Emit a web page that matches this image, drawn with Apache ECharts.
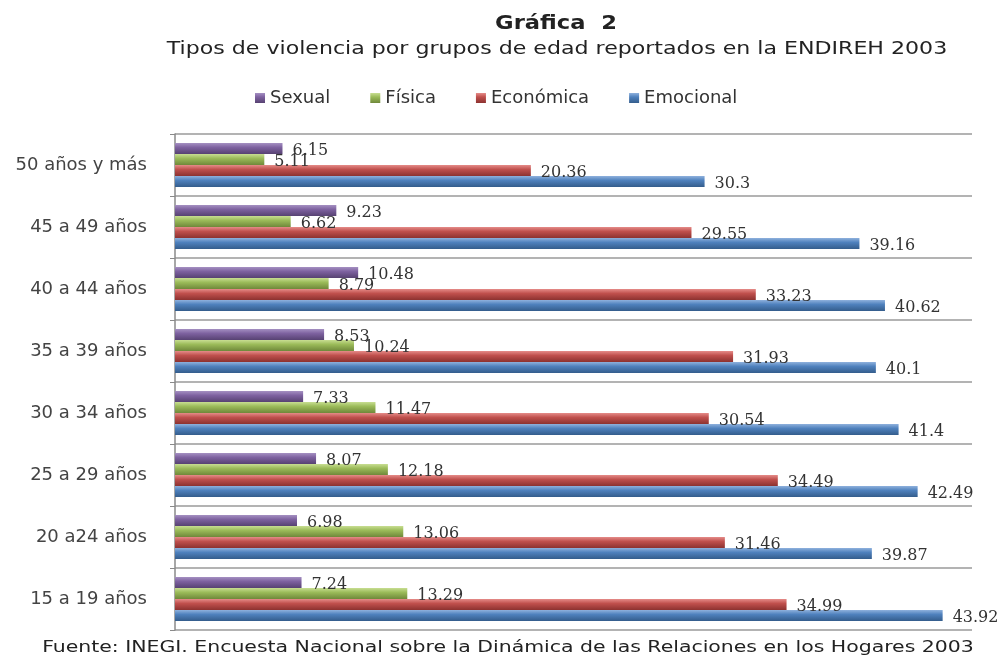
<!DOCTYPE html>
<html>
<head>
<meta charset="utf-8">
<script src="https://cdn.jsdelivr.net/npm/echarts@6/dist/echarts.min.js"></script>
<style>
html, body { margin: 0; padding: 0; background: #fff; }
#chart { width: 1000px; height: 657px; }
</style>
</head>
<body>
<div id="chart"></div>
<script>
// grupos de edad (de abajo hacia arriba)
var categorias = ['15 a 19 años', '20 a24 años', '25 a 29 años', '30 a 34 años',
                  '35 a 39 años', '40 a 44 años', '45 a 49 años', '50 años y más'];
var sexual    = [7.24, 6.98, 8.07, 7.33, 8.53, 10.48, 9.23, 6.15];
var fisica    = [13.29, 13.06, 12.18, 11.47, 10.24, 8.79, 6.62, 5.11];
var economica = [34.99, 31.46, 34.49, 30.54, 31.93, 33.23, 29.55, 20.36];
var emocional = [43.92, 39.87, 42.49, 41.4, 40.1, 40.62, 39.16, 30.3];
var leyenda   = ['Sexual', 'Física', 'Económica', 'Emocional'];

var fuente = '"DejaVu Sans", sans-serif';

function grad(top, mid, bottom) {
    return new echarts.graphic.LinearGradient(0, 0, 0, 1, [
        {offset: 0, color: top},
        {offset: 0.4, color: mid},
        {offset: 1, color: bottom}
    ]);
}

function serie(nombre, datos, c) {
    return {
        name: nombre,
        type: 'bar',
        data: datos,
        barGap: '0%',
        barCategoryGap: '29%',
        itemStyle: {color: grad(c[0], c[1], c[2])},
        label: {
            show: true,
            position: 'right',
            distance: 10,
            offset: [0, 2],
            color: '#333',
            fontFamily: '"DejaVu Serif", serif',
            fontSize: 16
        }
    };
}

// texto con estiramiento horizontal (el original esta ensanchado)
function texto(t, x, y, size, weight, sx) {
    return {
        type: 'text', x: x, y: y, scaleX: sx,
        style: {
            text: t, fontFamily: fuente, fontSize: size, fontWeight: weight,
            fill: '#222', align: 'center', verticalAlign: 'middle'
        }
    };
}

var myChart = echarts.init(document.getElementById('chart'));
var option = {
    backgroundColor: '#fff',
    graphic: [
        texto('Gráfica  2', 556, 24, 20, 'bold', 1.13),
        texto('Tipos de violencia por grupos de edad reportados en la ENDIREH 2003', 557, 50, 17, 'normal', 1.30),
        texto('Fuente: INEGI. Encuesta Nacional sobre la Dinámica de las Relaciones en los Hogares 2003', 508, 648, 16, 'normal', 1.277)
    ],
    legend: {
        data: leyenda,
        left: 250, top: 84,
        itemWidth: 10, itemHeight: 10, itemGap: 40,
        icon: 'rect',
        textStyle: {fontFamily: fuente, fontSize: 18, color: '#333'}
    },
    grid: {left: 175, right: 28, top: 134, bottom: 27, containLabel: false},
    xAxis: {
        type: 'value',
        min: 0, max: 45.6,
        axisLabel: {show: false},
        axisLine: {show: false},
        axisTick: {show: false},
        splitLine: {show: false}
    },
    yAxis: {
        type: 'category',
        data: categorias,
        axisLine: {show: true, lineStyle: {color: '#8a8a8a', width: 1.5}},
        axisTick: {show: true, length: 5, lineStyle: {color: '#8a8a8a'}},
        splitLine: {show: true, lineStyle: {color: '#9a9a9a', width: 1.5}},
        axisLabel: {fontFamily: fuente, fontSize: 18, color: '#444', margin: 28}
    },
    series: [
        serie('Sexual', sexual, ['#a590c2', '#7e62a0', '#574272']),
        serie('Física', fisica, ['#c8de92', '#9bbb59', '#6f883a']),
        serie('Económica', economica, ['#e58c89', '#c0504d', '#8c3230']),
        serie('Emocional', emocional, ['#8fb1dd', '#4f81bd', '#345d8c'])
    ]
};
myChart.setOption(option);
</script>
</body>
</html>
